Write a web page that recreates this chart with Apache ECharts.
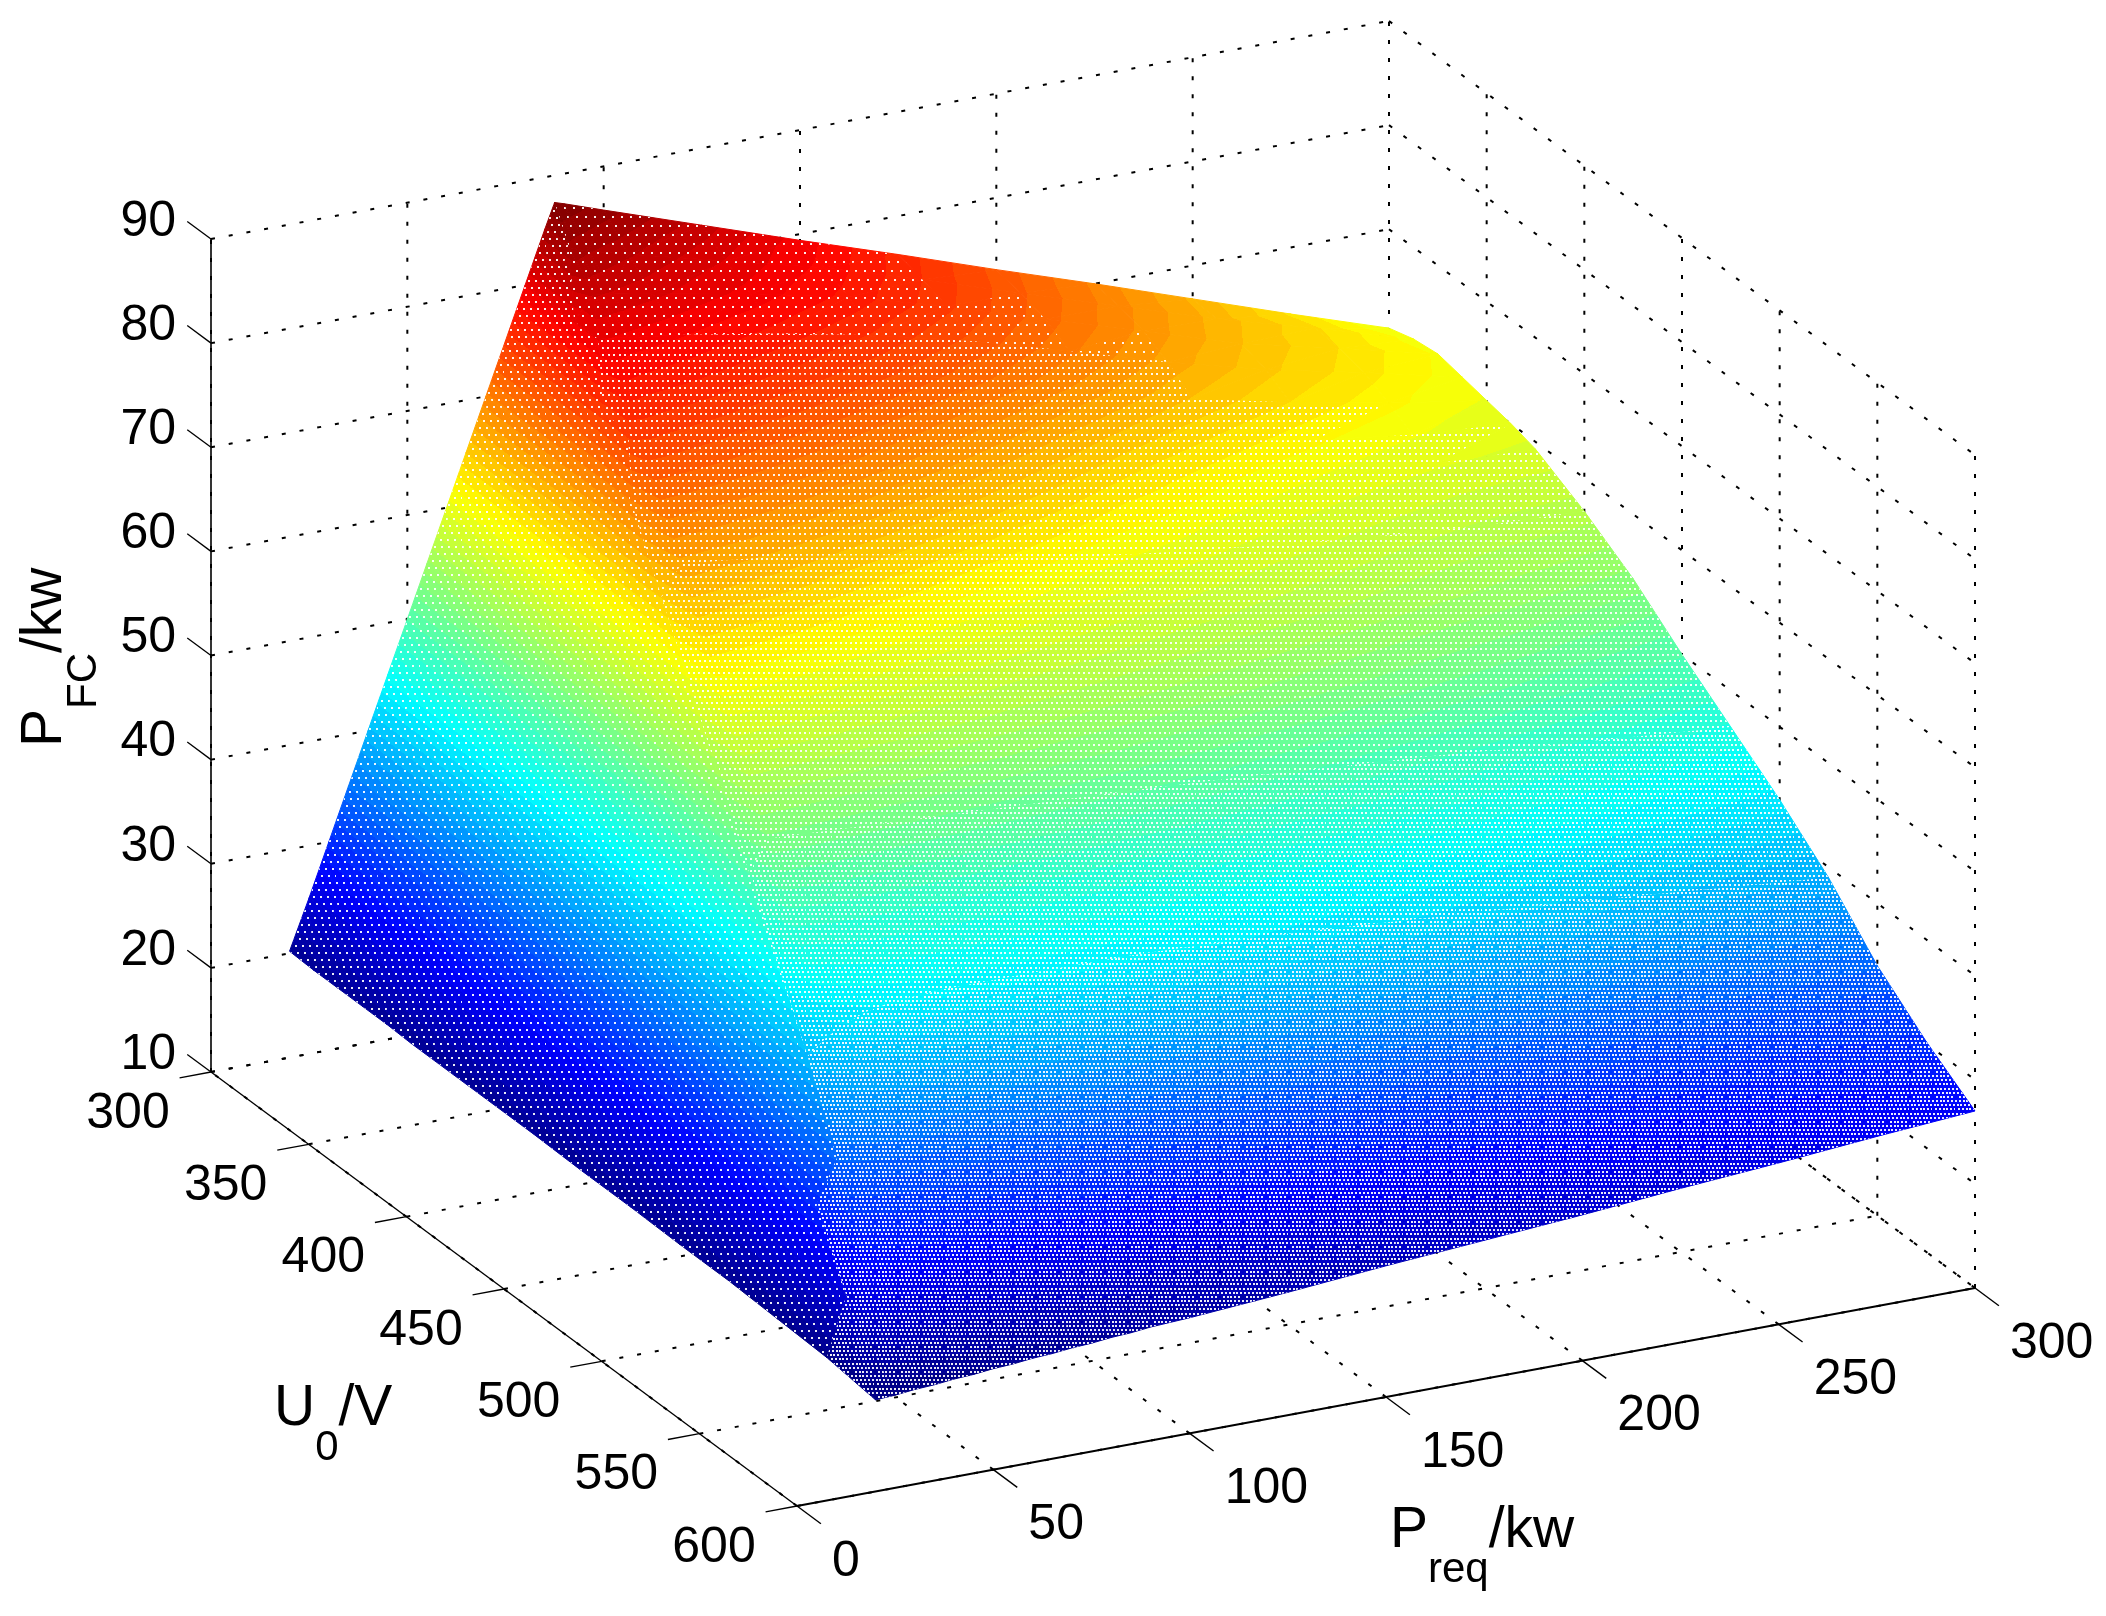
<!DOCTYPE html>
<html>
<head>
<meta charset="utf-8">
<style>html,body{margin:0;padding:0;background:#fff}#c{width:2106px;height:1616px}</style>
<script src="https://cdn.jsdelivr.net/npm/echarts@6/dist/echarts.min.js"></script>
</head>
<body>
<div id="c"></div>
<script>
// ---- axis ticks ----
const pReqTicks = [0, 50, 100, 150, 200, 250, 300];
const u0Ticks = [300, 350, 400, 450, 500, 550, 600];
const pFcTicks = [10, 20, 30, 40, 50, 60, 70, 80, 90];

// ---- surface samples ----
const pReqSamples = [20,25,30,35,40,45,50,55,60,65,70,75,80,85,87.5,90,100,125,150,175,200,225,250,275,300];
const u0Samples = [300,312.5,325,337.5,350,362.5,375,400,425,450,475,500,525,550,575,600];
const pFcAtU300 = [20.2,25,30,35,40,45,50,55,60,65,70,75,80,85,87.4,87.1,85.8,82.6,79.4,76.3,73.1,70,66.8,63.6,60.5];
const pFcAtU312 = [20.1,25,30,35,40,45,50,55,60,65,70,75,80,85,84.6,84.3,83.3,80.9,78.5,75.6,72.6,69.6,66.6,64,61.2];
const pFcAtU325 = [20.1,25,30,35,40,45,50,55,60,65,70,75,80,82.2,82,81.9,81.3,79.5,77.4,74.8,71.8,68.9,66,63.8,61.5];
const pFcAtU337 = [20.1,25,30,35,40,45,50,55,60,65,70,75,80,79.8,79.6,79.5,79,77.4,75.5,73.2,70.5,67.7,65.2,63.2,61];
const pFcAtU350 = [20.1,25,30,35,40,45,50,55,60,65,70,75,77.9,77.5,77.4,77.3,76.8,75.2,73.4,71.2,68.6,65.9,63.8,62,60.5];
const pFcAtU362 = [20,25,30,35,40,45,50,55,60,65,70,75,75.3,75,74.9,74.8,74.3,72.8,70.8,68.5,65.8,63.6,61.9,60.7,60];
const pFcAtU375 = [20,25,30,35,40,45,50,55,60,65,70,72.9,72.8,72.6,72.5,72.4,71.9,70.3,68.3,65.8,63.4,61.6,60.4,59.7,59.3];
const pFcAtU400 = [20,25,30,35,40,45,50,55,60,65,67.8,67.6,67.4,67.2,67.1,67,66.5,64.8,63,61.2,60,58.9,58,57.2,56.8];
const pFcAtU425 = [20,25,30,35,40,45,50,55,60,62.8,62.6,62.4,62.2,62,61.9,61.8,61.2,60,59,58.1,57.2,56.4,55.5,54.7,53.8];
const pFcAtU450 = [19.9,25,30,35,40,45,50,55,57.9,57.8,57.7,57.6,57.5,57.4,57.3,57.2,57,56.2,55.4,54.6,53.8,52.9,52,51,50];
const pFcAtU475 = [19.9,25,30,35,40,45,50,52.9,52.8,52.7,52.6,52.5,52.4,52.3,52.2,52.2,52,51.5,51,50.4,49.7,49,48.1,47.3,46.5];
const pFcAtU500 = [19.8,25,30,35,40,45,47,47.2,47.4,47.5,47.5,47.5,47.5,47.4,47.4,47.4,47.3,47,46.7,46.2,45.7,45.1,44.5,43.8,43];
const pFcAtU525 = [19.8,25,30,35,40,41.5,42.5,43.2,43.6,43.8,43.9,44,44,44,44,44,44,43.9,43.5,42.9,42.2,41.5,40.7,39.8,39];
const pFcAtU550 = [19.6,25,30,34,34.6,35,35.3,35.5,35.6,35.7,35.7,35.7,35.7,35.7,35.7,35.7,35.7,35.7,35.5,35.3,35,34.8,34.5,34.2,34];
const pFcAtU575 = [19.4,25,27.6,28.1,28.3,28.4,28.4,28.4,28.4,28.4,28.3,28.3,28.3,28.3,28.3,28.3,28.3,28.4,28.6,28.8,29,29.2,29.5,29.8,30.2];
const pFcAtU600 = [18.8,18.9,19.1,19.2,19.4,19.5,19.7,19.8,20,20.1,20.3,20.4,20.6,20.7,20.8,20.9,21.1,21.8,22.6,23.3,24,24.8,25.5,26.3,27];
const pFcRows = [pFcAtU300,pFcAtU312,pFcAtU325,pFcAtU337,pFcAtU350,pFcAtU362,pFcAtU375,pFcAtU400,pFcAtU425,pFcAtU450,pFcAtU475,pFcAtU500,pFcAtU525,pFcAtU550,pFcAtU575,pFcAtU600];

// ---- view: oblique projection of the 3D box onto the plotting plane ----
const view = { ox: 211, oy: 1072, px: 1178, py: -218, ux: 586, uy: 434, zy: -833 };
const colorMin = 18.8, colorMax = 87.4;
function project(p, u, z) {
  const a = p / 300, b = (u - 300) / 300, c = (z - 10) / 80;
  return [view.ox + a * view.px + b * view.ux, view.oy + a * view.py + b * view.uy + c * view.zy];
}

// ---- jet colormap, 64 levels ----
function jetLevel(k) {
  const t = (k + 0.5) / 64;
  const ch = v => Math.round(255 * Math.max(0, Math.min(1, v)));
  return 'rgb(' + ch(1.5 - Math.abs(4 * t - 3)) + ',' + ch(1.5 - Math.abs(4 * t - 2)) + ',' + ch(1.5 - Math.abs(4 * t - 1)) + ')';
}
const levelOf = z => Math.max(0, Math.min(63, Math.floor((z - colorMin) / (colorMax - colorMin) * 64)));
const zOfLevel = k => colorMin + k / 64 * (colorMax - colorMin);

// ---- surface triangles ----
const tris = [];
for (let j = 0; j < u0Samples.length - 1; j++) {
  for (let i = pReqSamples.length - 2; i >= 0; i--) {
    const n = (a, b) => [pReqSamples[a], u0Samples[b], pFcRows[b][a]];
    tris.push([n(i + 1, j), n(i + 1, j + 1), n(i, j + 1)]);
    tris.push([n(i, j), n(i + 1, j), n(i, j + 1)]);
  }
}

function triFill(pts, zs) {
  const zMin = Math.min.apply(null, zs), zMax = Math.max.apply(null, zs);
  const k0 = levelOf(zMin), k1 = levelOf(zMax);
  if (k0 === k1) return jetLevel(k0);
  const dx1 = pts[1][0] - pts[0][0], dy1 = pts[1][1] - pts[0][1], dz1 = zs[1] - zs[0];
  const dx2 = pts[2][0] - pts[0][0], dy2 = pts[2][1] - pts[0][1], dz2 = zs[2] - zs[0];
  const det = dx1 * dy2 - dx2 * dy1;
  if (Math.abs(det) < 1e-6) return jetLevel(k0);
  const a = (dz1 * dy2 - dz2 * dy1) / det, b = (dx1 * dz2 - dx2 * dz1) / det;
  const g2 = a * a + b * b;
  const lo = pts[zs.indexOf(zMin)];
  const span = zMax - zMin;
  const stops = [{ offset: 0, color: jetLevel(k0) }];
  for (let k = k0 + 1; k <= k1; k++) {
    const t = Math.max(0, Math.min(1, (zOfLevel(k) - zMin) / span));
    stops.push({ offset: t, color: jetLevel(k - 1) });
    stops.push({ offset: t, color: jetLevel(k) });
  }
  stops.push({ offset: 1, color: jetLevel(k1) });
  return { type: 'linear', global: true, x: lo[0], y: lo[1], x2: lo[0] + a * span / g2, y2: lo[1] + b * span / g2, colorStops: stops };
}

// ---- speck texture of the dense mesh ----
function makeTile(sx, sy, shear) {
  const n = 6, w = Math.round(sx * n), h = Math.round(sy * n);
  const c = document.createElement('canvas');
  c.width = w; c.height = h;
  const g = c.getContext('2d');
  g.fillStyle = 'rgba(255,255,255,0.92)';
  for (let r = 0; r < n; r++) for (let q = 0; q < n; q++) {
    g.fillRect(Math.round((q * sx + r * shear) % w), Math.round(r * sy), 2, 2);
  }
  return c;
}
const tileFace = makeTile(7, 7, 2.5);
const tileFine = makeTile(3.8, 4.2, 1.5);
const tileDense = makeTile(4.4, 4.8, 1.5);
const tileMid = makeTile(5, 6, 2);
const tileRows = makeTile(5.5, 6.7, 0.5);
const tileSparse = makeTile(9, 9, 3);
function tileFor(t) {
  const p = (t[0][0] + t[1][0] + t[2][0]) / 3, u = (t[0][1] + t[1][1] + t[2][1]) / 3, z = (t[0][2] + t[1][2] + t[2][2]) / 3;
  if (Math.abs(z - p) < 0.5) return tileFace;
  if (u >= 530) return tileFine;
  if (u >= 475) return tileDense;
  if (u >= 400) return tileMid;
  if ((p > 175 && u < 320) || (p > 195 && u < 332) || (p > 230 && u < 350) || (p > 260 && u < 365) || (p > 285 && u < 390)) return null;
  if (u < 337) return tileSparse;
  return tileRows;
}

// ---- box lines ----
const gridSegs = [];
pFcTicks.forEach(z => {
  gridSegs.push([[0, 300, z], [300, 300, z]]);
  gridSegs.push([[300, 300, z], [300, 600, z]]);
});
pReqTicks.forEach(p => {
  gridSegs.push([[p, 300, 10], [p, 300, 90]]);
  gridSegs.push([[p, 600, 10], [p, 300, 10]]);
});
u0Ticks.forEach(u => {
  gridSegs.push([[300, u, 10], [300, u, 90]]);
  gridSegs.push([[0, u, 10], [300, u, 10]]);
});
const tickP = 7, tickU = 8, tickZ = 9;
const axisSegs = [
  [[0, 300, 10], [0, 300, 90], 1.6],
  [[0, 300, 10], [0, 600, 10], 1.4],
  [[0, 600, 10], [300, 600, 10], 2]
];
pFcTicks.forEach(z => axisSegs.push([[0, 300, z], [0, 300 - tickZ * 1.35, z], 1.3]));
u0Ticks.forEach(u => axisSegs.push([[0, u, 10], [-tickU, u, 10], 1.4]));
pReqTicks.forEach(p => axisSegs.push([[p, 600, 10], [p, 600 + tickP * 1.75, 10], 1.4]));

const tickFont = '50px "Liberation Sans", Arial, sans-serif';
const labels = [];
pFcTicks.forEach(z => { const a = project(0, 300, z); labels.push({ text: String(z), x: a[0] - 35, y: a[1] - 17, align: 'right' }); });
u0Ticks.forEach(u => { const a = project(0, u, 10); labels.push({ text: String(u), x: a[0] - 83, y: a[1] + 42, align: 'center' }); });
pReqTicks.forEach(p => { const a = project(p, 600, 10); labels.push({ text: String(p), x: a[0] + 35, y: a[1] + 56, align: 'left' }); });

const titleRich = {
  a: { fontSize: 57, fontFamily: '"Liberation Sans", Arial, sans-serif', lineHeight: 88, verticalAlign: 'top', fill: '#000' },
  b: { fontSize: 42, fontFamily: '"Liberation Sans", Arial, sans-serif', lineHeight: 88, verticalAlign: 'bottom', fill: '#000' }
};
const titles = [
  { text: '{a|P}{b|req}{a|/kw}', x: 1390, y: 1503, rotation: 0 },
  { text: '{a|U}{b|0}{a|/V}', x: 274, y: 1381, rotation: 0 },
  { text: '{a|P}{b|FC}{a|/kw}', x: 17, y: 747, rotation: Math.PI / 2 }
];

const idx = arr => arr.map((_, i) => [i, i]);
const base = { type: 'custom', coordinateSystem: 'cartesian2d', silent: true, clip: false, animation: false, encode: { x: 0, y: 1 } };
const line = (a, b) => ({ x1: a[0], y1: a[1], x2: b[0], y2: b[1] });

const chart = echarts.init(document.getElementById('c'), null, { renderer: 'canvas' });
chart.setOption({
  animation: false,
  backgroundColor: '#ffffff',
  grid: { left: 0, right: 0, top: 0, bottom: 0 },
  xAxis: { type: 'value', min: 0, max: 2106, show: false },
  yAxis: { type: 'value', min: 0, max: 1616, inverse: true, show: false },
  series: [
    Object.assign({}, base, {
      name: 'grid', z: 1, data: idx(gridSegs),
      renderItem(params, api) {
        const s = gridSegs[params.dataIndex];
        const a = api.coord(project.apply(null, s[0])), b = api.coord(project.apply(null, s[1]));
        return { type: 'line', shape: line(a, b), style: { stroke: '#000', lineWidth: 2, lineDash: [4, 14], fill: null } };
      }
    }),
    Object.assign({}, base, {
      name: 'P_FC surface', z: 2, data: idx(tris),
      renderItem(params, api) {
        const t = tris[params.dataIndex];
        const pts = t.map(n => api.coord(project(n[0], n[1], n[2])));
        const fill = triFill(pts, t.map(n => n[2]));
        return { type: 'polygon', shape: { points: pts }, style: { fill: fill, stroke: fill, lineWidth: 1 } };
      }
    }),
    Object.assign({}, base, {
      name: 'mesh specks', z: 3, data: idx(tris),
      renderItem(params, api) {
        const t = tris[params.dataIndex];
        const tile = tileFor(t);
        if (!tile) return null;
        const pts = t.map(n => api.coord(project(n[0], n[1], n[2])));
        return { type: 'polygon', shape: { points: pts }, style: { fill: { image: tile, repeat: 'repeat' }, stroke: null } };
      }
    }),
    Object.assign({}, base, {
      name: 'axes', z: 4, data: idx(axisSegs),
      renderItem(params, api) {
        const s = axisSegs[params.dataIndex];
        const a = api.coord(project.apply(null, s[0])), b = api.coord(project.apply(null, s[1]));
        return { type: 'line', shape: line(a, b), style: { stroke: '#000', lineWidth: s[2], fill: null } };
      }
    }),
    Object.assign({}, base, {
      name: 'tick labels', z: 5, data: idx(labels),
      renderItem(params, api) {
        const l = labels[params.dataIndex];
        const a = api.coord([l.x, l.y]);
        return { type: 'text', x: a[0], y: a[1], style: { text: l.text, font: tickFont, fill: '#000', align: l.align, textAlign: l.align, verticalAlign: 'middle' } };
      }
    }),
    Object.assign({}, base, {
      name: 'axis titles', z: 5, data: idx(titles),
      renderItem(params, api) {
        const l = titles[params.dataIndex];
        const a = api.coord([l.x, l.y]);
        return { type: 'text', x: a[0], y: a[1], rotation: l.rotation, style: { text: l.text, rich: titleRich, fill: '#000', align: 'left', verticalAlign: 'top' } };
      }
    })
  ]
});
</script>
</body>
</html>
